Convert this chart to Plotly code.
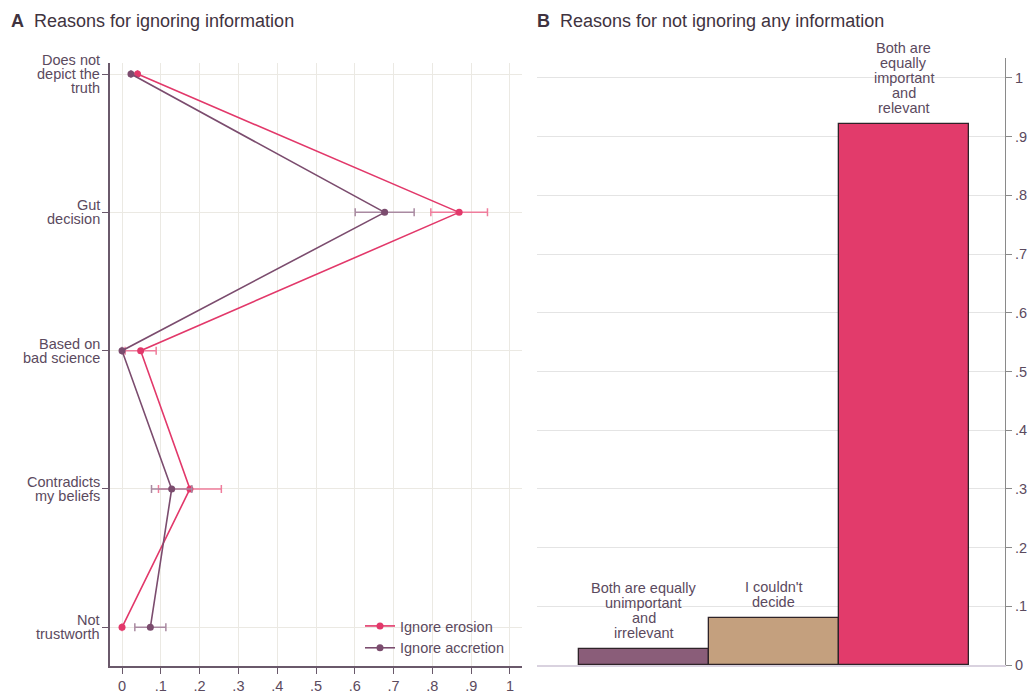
import plotly.graph_objects as go

W, H = 1032, 692

# Panel A: share of respondents citing each reason for ignoring information
reasons = [["Does not", "depict the", "truth"], ["Gut", "decision"], ["Based on", "bad science"],
           ["Contradicts", "my beliefs"], ["Not", "trustworth"]]
erosion_share = [0.040, 0.869, 0.048, 0.175, 0.0]
erosion_ci = [None, 0.073, 0.040, 0.081, None]
accretion_share = [0.023, 0.677, 0.0, 0.128, 0.073]
accretion_ci = [None, 0.076, None, 0.052, 0.040]

# Panel B: reasons for not ignoring any information
choices = [["Both are equally", "unimportant", "and", "irrelevant"], ["I couldn't", "decide"],
           ["Both are", "equally", "important", "and", "relevant"]]
choice_share = [0.027, 0.080, 0.921]

x_ticks = [i / 10 for i in range(11)]
x_tick_text = ["0", ".1", ".2", ".3", ".4", ".5", ".6", ".7", ".8", ".9", "1"]

PINK = "#e2386a"
PINK_LIGHT = "#ef7d9c"
PLUM = "#7b4c6e"
PLUM_LIGHT = "#a98aa1"
TAN = "#c4a07e"
TEXT = "#5b4a5e"
GRID = "#ebe9e3"
FONT = "Liberation Sans, Arial, sans-serif"
FS = 14.5


def px_x(p):
    return p / W


def px_y(p):
    return (H - p) / H


fig = go.Figure()

ypos = list(range(len(reasons)))

fig.add_trace(go.Scatter(
    x=erosion_share, y=ypos, mode="lines+markers", name="Ignore erosion",
    line=dict(color=PINK, width=1.6), marker=dict(color=PINK, size=7),
    error_x=dict(type="data", array=erosion_ci, color=PINK_LIGHT, thickness=1.5, width=4),
    xaxis="x", yaxis="y",
))
fig.add_trace(go.Scatter(
    x=accretion_share, y=ypos, mode="lines+markers", name="Ignore accretion",
    line=dict(color=PLUM, width=1.6), marker=dict(color=PLUM, size=7),
    error_x=dict(type="data", array=accretion_ci, color=PLUM_LIGHT, thickness=1.5, width=4),
    xaxis="x", yaxis="y",
))

# Category labels, one line at a time for tight line spacing
for pos, lines in zip(ypos, reasons):
    n = len(lines)
    for i, line in enumerate(lines):
        fig.add_annotation(
            x=px_x(102), xref="paper", y=pos, yref="y", text=line, showarrow=False,
            xanchor="right", yanchor="middle", yshift=(n - 1) / 2 * 14 - i * 14,
            font=dict(family=FONT, size=FS, color=TEXT),
        )

bar_x = [1, 2, 3]
fig.add_trace(go.Bar(
    x=bar_x, y=choice_share, width=1.0, showlegend=False,
    marker=dict(color=["#8a5d79", TAN, "#e23b6b"], line=dict(color="#2e2328", width=1.3)),
    xaxis="x2", yaxis="y2",
))

for bx, share, lines in zip(bar_x, choice_share, choices):
    n = len(lines)
    for i, line in enumerate(lines):
        fig.add_annotation(
            x=bx, y=share, xref="x2", yref="y2", text=line, showarrow=False,
            xanchor="center", yanchor="middle", yshift=16 + (n - 1 - i) * 15,
            font=dict(family=FONT, size=FS, color=TEXT),
        )

# Panel titles
fig.add_annotation(x=px_x(9), y=px_y(21), xref="paper", yref="paper", xanchor="left",
                   yanchor="middle", showarrow=False,
                   text="<b>A</b>  Reasons for ignoring information",
                   font=dict(family=FONT, size=18, color="#3f3340"))
fig.add_annotation(x=px_x(535), y=px_y(21), xref="paper", yref="paper", xanchor="left",
                   yanchor="middle", showarrow=False,
                   text="<b>B</b>  Reasons for not ignoring any information",
                   font=dict(family=FONT, size=18, color="#3f3340"))

fig.update_layout(
    width=W, height=H,
    margin=dict(l=0, r=0, t=0, b=0, autoexpand=False),
    paper_bgcolor="white", plot_bgcolor="white",
    font=dict(family=FONT, size=FS, color=TEXT),
    xaxis=dict(
        domain=[px_x(110), px_x(522)], range=[-0.031, 1.031],
        tickvals=x_ticks, ticktext=x_tick_text, automargin=False,
        showgrid=True, gridcolor=GRID, gridwidth=1,
        showline=True, linecolor="#6a596b", linewidth=1.5,
        ticks="outside", ticklen=6, tickcolor="#6a596b",
        zeroline=False, tickfont=dict(size=FS, color=TEXT),
    ),
    yaxis=dict(
        domain=[px_y(666), px_y(63)], range=[4.28, -0.08],
        tickvals=ypos, showticklabels=False, automargin=False,
        showgrid=True, gridcolor=GRID, gridwidth=1,
        showline=True, linecolor="#6a596b", linewidth=1.5,
        ticks="outside", ticklen=6, tickcolor="#6a596b",
        zeroline=False,
    ),
    xaxis2=dict(
        domain=[px_x(537), px_x(1005)], range=[0.18, 3.78],
        showticklabels=False, showgrid=False, zeroline=False, automargin=False,
        showline=True, linecolor="#d9d2df", linewidth=1.5, anchor="y2",
    ),
    yaxis2=dict(
        domain=[px_y(665), px_y(58)], range=[0, 1.034],
        side="right", anchor="x2", automargin=False,
        tickvals=x_ticks, ticktext=x_tick_text,
        showgrid=True, gridcolor="#e4e4e4", gridwidth=1,
        showline=True, linecolor="#8a8a8a", linewidth=1.2,
        ticks="outside", ticklen=6, tickcolor="#8a8a8a",
        zeroline=False, tickfont=dict(size=FS, color=TEXT),
    ),
    legend=dict(
        x=px_x(360), y=px_y(610), xanchor="left", yanchor="top",
        bgcolor="rgba(0,0,0,0)", font=dict(size=FS, color=TEXT),
        itemwidth=30, tracegroupgap=0,
    ),
    bargap=0,
)

fig.write_html("out.html")
